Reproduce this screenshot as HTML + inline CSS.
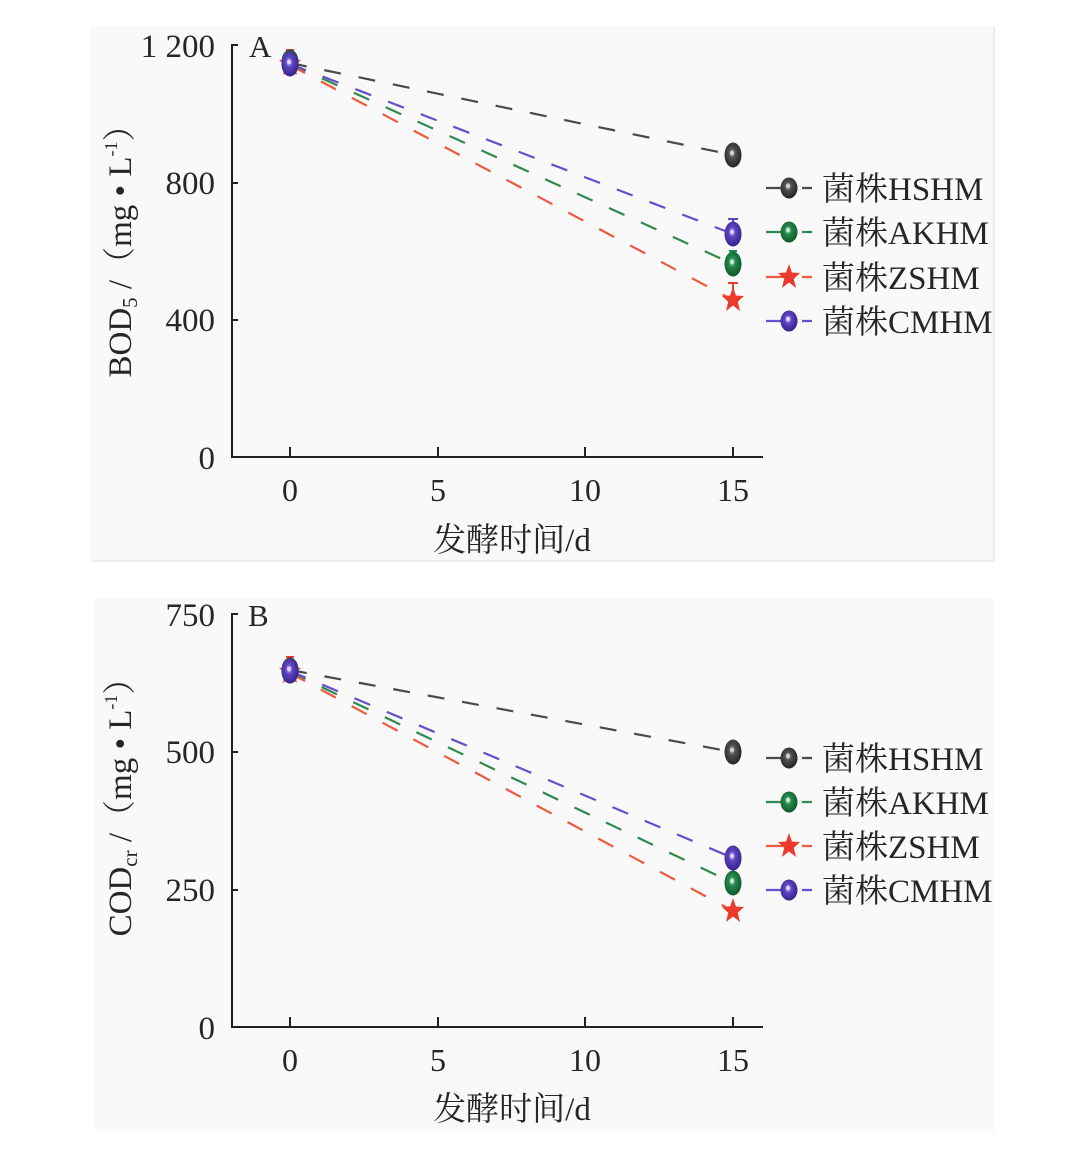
<!DOCTYPE html>
<html><head><meta charset="utf-8">
<style>
html,body{margin:0;padding:0;background:#fff;}
svg{display:block;}
text{font-family:"Liberation Serif","Noto Serif CJK SC",serif;fill:#262626;}
</style></head>
<body>
<svg width="1088" height="1152" viewBox="0 0 1088 1152" xmlns="http://www.w3.org/2000/svg">
<defs>
<radialGradient id="gG" cx="45%" cy="42%" r="60%">
<stop offset="0" stop-color="#a8a8a8"/><stop offset="0.35" stop-color="#4e4e4e"/><stop offset="1" stop-color="#222"/>
</radialGradient>
<radialGradient id="gE" cx="45%" cy="42%" r="60%">
<stop offset="0" stop-color="#9ad8b0"/><stop offset="0.35" stop-color="#23884a"/><stop offset="1" stop-color="#0f5528"/>
</radialGradient>
<radialGradient id="gP" cx="45%" cy="42%" r="60%">
<stop offset="0" stop-color="#c8b8ff"/><stop offset="0.35" stop-color="#5e44c0"/><stop offset="1" stop-color="#33208a"/>
</radialGradient>
<g id="mG"><ellipse cx="0" cy="0" rx="8.5" ry="12.5" fill="url(#gG)"/><ellipse cx="-1" cy="-2" rx="2" ry="2.5" fill="#eee" opacity="0.7"/></g>
<g id="mE"><ellipse cx="0" cy="0" rx="8.5" ry="12.5" fill="url(#gE)"/><ellipse cx="-1" cy="-2" rx="2" ry="2.5" fill="#eefff2" opacity="0.7"/></g>
<g id="mP"><ellipse cx="0" cy="0" rx="8.5" ry="12.5" fill="url(#gP)"/><ellipse cx="-1" cy="-2" rx="2" ry="2.5" fill="#f2eeff" opacity="0.7"/></g>
<g id="lG"><ellipse cx="0" cy="0" rx="8.5" ry="10.5" fill="url(#gG)"/><ellipse cx="-1" cy="-2" rx="2" ry="2.5" fill="#eee" opacity="0.7"/></g>
<g id="lE"><ellipse cx="0" cy="0" rx="8.5" ry="10.5" fill="url(#gE)"/><ellipse cx="-1" cy="-2" rx="2" ry="2.5" fill="#eefff2" opacity="0.7"/></g>
<g id="lP"><ellipse cx="0" cy="0" rx="8.5" ry="10.5" fill="url(#gP)"/><ellipse cx="-1" cy="-2" rx="2" ry="2.5" fill="#f2eeff" opacity="0.7"/></g>
<path id="mS" d="M0,-13 L2.94,-4.5 L11,-4 L4.76,1.8 L7.05,11 L0,5.5 L-7.05,11 L-4.76,1.8 L-11,-4 L-2.94,-4.5 Z" fill="#ec3a2c"/>
</defs>

<!-- Panel backgrounds -->
<rect x="90" y="27" width="904" height="534" fill="#f9f9f9"/>
<line x1="90" y1="561" x2="994" y2="561" stroke="#ececec" stroke-width="1.5"/>
<line x1="994" y1="27" x2="994" y2="561" stroke="#e6e6e6" stroke-width="1.5"/>
<rect x="95" y="598" width="899" height="534" fill="#f9f9f9"/>

<!-- ================= PANEL A ================= -->
<g stroke="#222" stroke-width="2" fill="none">
<polyline points="238,45 232,45 232,457 763,457"/>
<line x1="232" y1="183" x2="238" y2="183"/>
<line x1="232" y1="320" x2="238" y2="320"/>
<line x1="290" y1="457" x2="290" y2="447"/>
<line x1="438" y1="457" x2="438" y2="447"/>
<line x1="585" y1="457" x2="585" y2="447"/>
<line x1="733" y1="457" x2="733" y2="447"/>
</g>
<g font-size="33" text-anchor="end">
<text x="215" y="57">1 200</text>
<text x="215" y="194">800</text>
<text x="215" y="331">400</text>
<text x="215" y="469">0</text>
</g>
<text x="249" y="57" font-size="31">A</text>
<g font-size="32" text-anchor="middle">
<text x="290" y="501">0</text>
<text x="438" y="501">5</text>
<text x="585" y="501">10</text>
<text x="733" y="501">15</text>
</g>
<text x="512" y="551" font-size="33" text-anchor="middle">发酵时间/d</text>
<text transform="translate(131,243) rotate(-90)" text-anchor="middle" font-size="33">BOD<tspan font-size="21" dy="6">5</tspan><tspan dy="-6"> /（mg • L</tspan><tspan font-size="18" dy="-14">-1</tspan><tspan dy="14">）</tspan></text>

<!-- series lines A -->
<g fill="none" stroke-width="2.2" stroke-dasharray="17 18">
<line x1="290" y1="63" x2="733" y2="155" stroke="#4a4a4a"/>
<line x1="290" y1="64" x2="733" y2="264" stroke="#2f8a50"/>
<line x1="290" y1="65" x2="733" y2="300" stroke="#ec5a40"/>
<line x1="290" y1="64" x2="733" y2="234" stroke="#6450cc"/>
</g>
<!-- error bars A -->
<g stroke-width="2" fill="none">
<path d="M733,292 V283 M728,283 H738" stroke="#ec3a2c"/>
<path d="M733,226 V219 M728,219 H738" stroke="#5e44c0"/>
<path d="M733,256 V251 M729,251 H737" stroke="#23884a"/>
<path d="M290,56 V50 M286,50 H294" stroke="#ec3a2c"/>
</g>
<!-- markers A -->
<use href="#mG" x="290" y="62"/>
<use href="#mE" x="290" y="63"/>
<use href="#mS" x="290" y="64"/>
<use href="#mP" x="290" y="64"/>
<use href="#mG" x="733" y="155"/>
<use href="#mE" x="733" y="264"/>
<use href="#mS" x="733" y="300"/>
<use href="#mP" x="733" y="234"/>

<!-- legend A -->
<g stroke-width="2.2">
<line x1="766" y1="188" x2="812" y2="188" stroke="#4a4a4a"/>
<line x1="766" y1="232" x2="812" y2="232" stroke="#2f8a50"/>
<line x1="766" y1="277" x2="812" y2="277" stroke="#ec5a40"/>
<line x1="766" y1="321" x2="812" y2="321" stroke="#6450cc"/>
<line x1="795" y1="188" x2="802" y2="188" stroke="#f9f9f9"/>
<line x1="795" y1="232" x2="802" y2="232" stroke="#f9f9f9"/>
<line x1="795" y1="277" x2="802" y2="277" stroke="#f9f9f9"/>
<line x1="795" y1="321" x2="802" y2="321" stroke="#f9f9f9"/>
</g>
<use href="#lG" x="789" y="188"/>
<use href="#lE" x="789" y="232"/>
<use href="#mS" x="789" y="277"/>
<use href="#lP" x="789" y="321"/>
<g font-size="33">
<text x="822" y="200">菌株HSHM</text>
<text x="822" y="244">菌株AKHM</text>
<text x="822" y="289">菌株ZSHM</text>
<text x="822" y="333">菌株CMHM</text>
</g>

<!-- ================= PANEL B ================= -->
<g stroke="#222" stroke-width="2" fill="none">
<polyline points="238,614 232,614 232,1027 763,1027"/>
<line x1="232" y1="752" x2="238" y2="752"/>
<line x1="232" y1="890" x2="238" y2="890"/>
<line x1="290" y1="1027" x2="290" y2="1017"/>
<line x1="438" y1="1027" x2="438" y2="1017"/>
<line x1="585" y1="1027" x2="585" y2="1017"/>
<line x1="733" y1="1027" x2="733" y2="1017"/>
</g>
<g font-size="33" text-anchor="end">
<text x="215" y="626">750</text>
<text x="215" y="763">500</text>
<text x="215" y="901">250</text>
<text x="215" y="1039">0</text>
</g>
<text x="248" y="626" font-size="31">B</text>
<g font-size="32" text-anchor="middle">
<text x="290" y="1071">0</text>
<text x="438" y="1071">5</text>
<text x="585" y="1071">10</text>
<text x="733" y="1071">15</text>
</g>
<text x="512" y="1120" font-size="33" text-anchor="middle">发酵时间/d</text>
<text transform="translate(131,799) rotate(-90)" text-anchor="middle" font-size="33">COD<tspan font-size="21" dy="6">cr</tspan><tspan dy="-6"> /（mg • L</tspan><tspan font-size="18" dy="-14">-1</tspan><tspan dy="14">）</tspan></text>

<!-- series lines B -->
<g fill="none" stroke-width="2.2" stroke-dasharray="17 18">
<line x1="290" y1="670" x2="733" y2="752" stroke="#4a4a4a"/>
<line x1="290" y1="672" x2="733" y2="883" stroke="#2f8a50"/>
<line x1="290" y1="673" x2="733" y2="911" stroke="#ec5a40"/>
<line x1="290" y1="671" x2="733" y2="858" stroke="#6450cc"/>
</g>
<g stroke-width="2" fill="none">
<path d="M290,662 V657 M286,657 H294" stroke="#ec3a2c"/>
</g>
<use href="#mG" x="290" y="670"/>
<use href="#mE" x="290" y="671"/>
<use href="#mS" x="290" y="672"/>
<use href="#mP" x="290" y="671"/>
<use href="#mG" x="733" y="752"/>
<use href="#mE" x="733" y="883"/>
<use href="#mS" x="733" y="911"/>
<use href="#mP" x="733" y="858"/>

<!-- legend B -->
<g stroke-width="2.2">
<line x1="766" y1="758" x2="812" y2="758" stroke="#4a4a4a"/>
<line x1="766" y1="802" x2="812" y2="802" stroke="#2f8a50"/>
<line x1="766" y1="846" x2="812" y2="846" stroke="#ec5a40"/>
<line x1="766" y1="890" x2="812" y2="890" stroke="#6450cc"/>
<line x1="795" y1="758" x2="802" y2="758" stroke="#f9f9f9"/>
<line x1="795" y1="802" x2="802" y2="802" stroke="#f9f9f9"/>
<line x1="795" y1="846" x2="802" y2="846" stroke="#f9f9f9"/>
<line x1="795" y1="890" x2="802" y2="890" stroke="#f9f9f9"/>
</g>
<use href="#lG" x="789" y="758"/>
<use href="#lE" x="789" y="802"/>
<use href="#mS" x="789" y="846"/>
<use href="#lP" x="789" y="890"/>
<g font-size="33">
<text x="822" y="770">菌株HSHM</text>
<text x="822" y="814">菌株AKHM</text>
<text x="822" y="858">菌株ZSHM</text>
<text x="822" y="902">菌株CMHM</text>
</g>
</svg>
</body></html>
